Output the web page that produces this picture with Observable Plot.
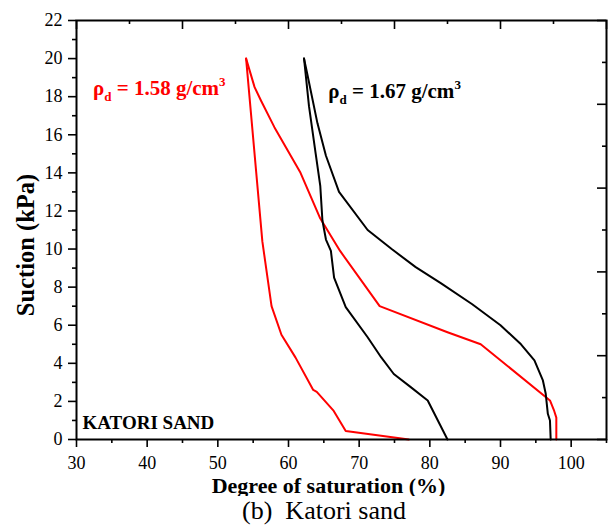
<!DOCTYPE html>
<html><head><meta charset="utf-8">
<script src="https://cdn.jsdelivr.net/npm/d3@7"></script>
<script src="https://cdn.jsdelivr.net/npm/@observablehq/plot@0.6"></script>
<style>
body{margin:0;background:#fff;}
#wrap{position:relative;width:610px;height:527px;overflow:hidden;}
#cap{position:absolute;top:496px;left:0;width:648px;text-align:center;font:26px "Liberation Serif","Times New Roman",serif;white-space:pre;line-height:30px;color:#000;}
</style></head><body><div id="wrap"></div>
<script>
// Axis ticks
const xTicks = [30, 40, 50, 60, 70, 80, 90, 100];
const xMinor = [35, 45, 55, 65, 75, 85, 95, 105];
const yTicks = [0, 2, 4, 6, 8, 10, 12, 14, 16, 18, 20, 22];
const yMinor = [1, 3, 5, 7, 9, 11, 13, 15, 17, 19, 21];
const topMajor = [30, 45, 60, 75, 90, 105];
const topMinor = [37.5, 52.5, 67.5, 82.5, 97.5];
const rightMajor = [0, 4.4, 8.8, 13.2, 17.6, 22];
const rightMinor = [2.2, 6.6, 11, 15.4, 19.8];

// rho_d = 1.58 g/cm3 (red)
const red1S   = [54.0, 56.3, 57.6, 59.0, 61.0, 63.5, 64.0, 66.4, 68.1, 76.0, 77.0];
const red1Suc = [20.0, 10.4, 7.0, 5.5, 4.3, 2.6, 2.5, 1.5, 0.45, 0.05, 0.0];
const red2S   = [54.0, 55.2, 56.1, 58.0, 61.7, 64.5, 67.3, 72.9, 82.5, 87.2, 97.0, 97.6, 97.9, 97.9];
const red2Suc = [20.0, 18.5, 17.8, 16.4, 14.0, 11.6, 9.9, 7.0, 5.63, 5.0, 2.05, 1.5, 1.15, 0.0];

// rho_d = 1.67 g/cm3 (black)
const blk1S   = [62.2, 62.9, 63.85, 64.5, 64.8, 65.3, 66.0, 66.45, 68.1, 71.2, 73.1, 74.9, 77.3, 79.7, 82.5];
const blk1Suc = [20.0, 17.5, 15.0, 13.3, 11.5, 10.5, 9.9, 8.5, 6.95, 5.37, 4.32, 3.44, 2.75, 2.05, 0.0];
const blk2S   = [62.2, 62.65, 64.1, 65.3, 67.15, 71.2, 74.6, 78.0, 81.6, 86.0, 90.0, 92.9, 94.8, 96.0, 96.4, 96.7, 97.0, 97.1];
const blk2Suc = [20.0, 19.2, 16.6, 14.9, 13.0, 11.0, 10.0, 9.05, 8.2, 7.1, 6.0, 5.0, 4.15, 3.1, 2.4, 1.35, 1.0, 0.0];

// Annotations
const annoX = [32.4, 65.7];
const annoY = [18.05, 17.9];
const annoVal = ["1.58", "1.67"];
const annoColor = ["#ff0000", "#000000"];

const toRows = (S, U) => S.map((s, i) => ({s, u: U[i]}));
const red1 = toRows(red1S, red1Suc), red2 = toRows(red2S, red2Suc);
const blk1 = toRows(blk1S, blk1Suc), blk2 = toRows(blk2S, blk2Suc);

const FONT = '"Liberation Serif", "Times New Roman", serif';
const W = 610, H = 496, mL = 76, mR = 4, mT = 20, mB = 57;
const fw = W - mL - mR, fh = H - mT - mB;

const plot = Plot.plot({
  width: W, height: H,
  marginLeft: mL, marginRight: mR, marginTop: mT, marginBottom: mB,
  style: {fontFamily: FONT, fontSize: "18px", color: "#000", background: "#fff"},
  x: {domain: [30, 105]},
  y: {domain: [0, 22]},
  marks: [
    Plot.line(red1, {x: "s", y: "u", stroke: "#ff0000", strokeWidth: 2}),
    Plot.line(red2, {x: "s", y: "u", stroke: "#ff0000", strokeWidth: 2}),
    Plot.line(blk1, {x: "s", y: "u", stroke: "#000", strokeWidth: 2}),
    Plot.line(blk2, {x: "s", y: "u", stroke: "#000", strokeWidth: 2}),
    Plot.frame({stroke: "#000", strokeWidth: 2}),
    Plot.axisX({ticks: xTicks, tickSize: 8, tickPadding: 9, tickFormat: d => String(d), label: null, strokeWidth: 1.6, fontSize: 18}),
    Plot.axisX({ticks: xMinor, tickSize: 4, tickFormat: () => "", label: null, strokeWidth: 1.6}),
    Plot.axisY({ticks: yTicks, tickSize: 8, tickPadding: 6, tickFormat: d => String(d), label: null, strokeWidth: 1.6, fontSize: 18}),
    Plot.axisY({ticks: yMinor, tickSize: 4, tickFormat: () => "", label: null, strokeWidth: 1.6}),
    Plot.ruleX(topMajor, {x: d => d, insetBottom: fh - 9, strokeWidth: 1.6}),
    Plot.ruleX(topMinor, {x: d => d, insetBottom: fh - 4, strokeWidth: 1.6}),
    Plot.ruleY(rightMajor, {y: d => d, insetLeft: fw - 9, strokeWidth: 1.6}),
    Plot.ruleY(rightMinor, {y: d => d, insetLeft: fw - 4, strokeWidth: 1.6}),
    Plot.text(["Degree of saturation (%)"], {frameAnchor: "bottom", text: d => d, textAnchor: "middle", dx: -13, dy: 53, fontSize: 22, fontWeight: "bold", fill: "#000"}),
    Plot.text(["Suction (kPa)"], {frameAnchor: "left", text: d => d, textAnchor: "middle", rotate: -90, dx: -50, dy: 15, fontSize: 24.5, fontWeight: "bold", fill: "#000"}),
    Plot.text(["KATORI SAND"], {frameAnchor: "bottom-left", text: d => d, textAnchor: "start", dx: 6, dy: -11, fontSize: 19, fontWeight: "bold", fill: "#000"})
  ]
});

const xs = plot.scale("x"), ys = plot.scale("y");
const svg = d3.select(plot);
annoX.forEach((ax, i) => {
  const t = svg.append("text")
    .attr("x", xs.apply(ax)).attr("y", ys.apply(annoY[i]))
    .attr("text-anchor", "start")
    .attr("fill", annoColor[i]).attr("font-weight", "bold")
    .attr("font-size", 21).attr("font-family", FONT);
  t.append("tspan").text("ρ");
  t.append("tspan").attr("font-size", 13).attr("dy", 6).text("d");
  t.append("tspan").attr("dy", -6).text(" = " + annoVal[i] + " g/cm");
  t.append("tspan").attr("font-size", 13).attr("dy", -9).text("3");
});

const wrap = document.getElementById("wrap");
wrap.appendChild(plot);
const cap = document.createElement("div");
cap.id = "cap";
cap.textContent = "(b)  Katori sand";
wrap.appendChild(cap);
</script>
</body></html>
